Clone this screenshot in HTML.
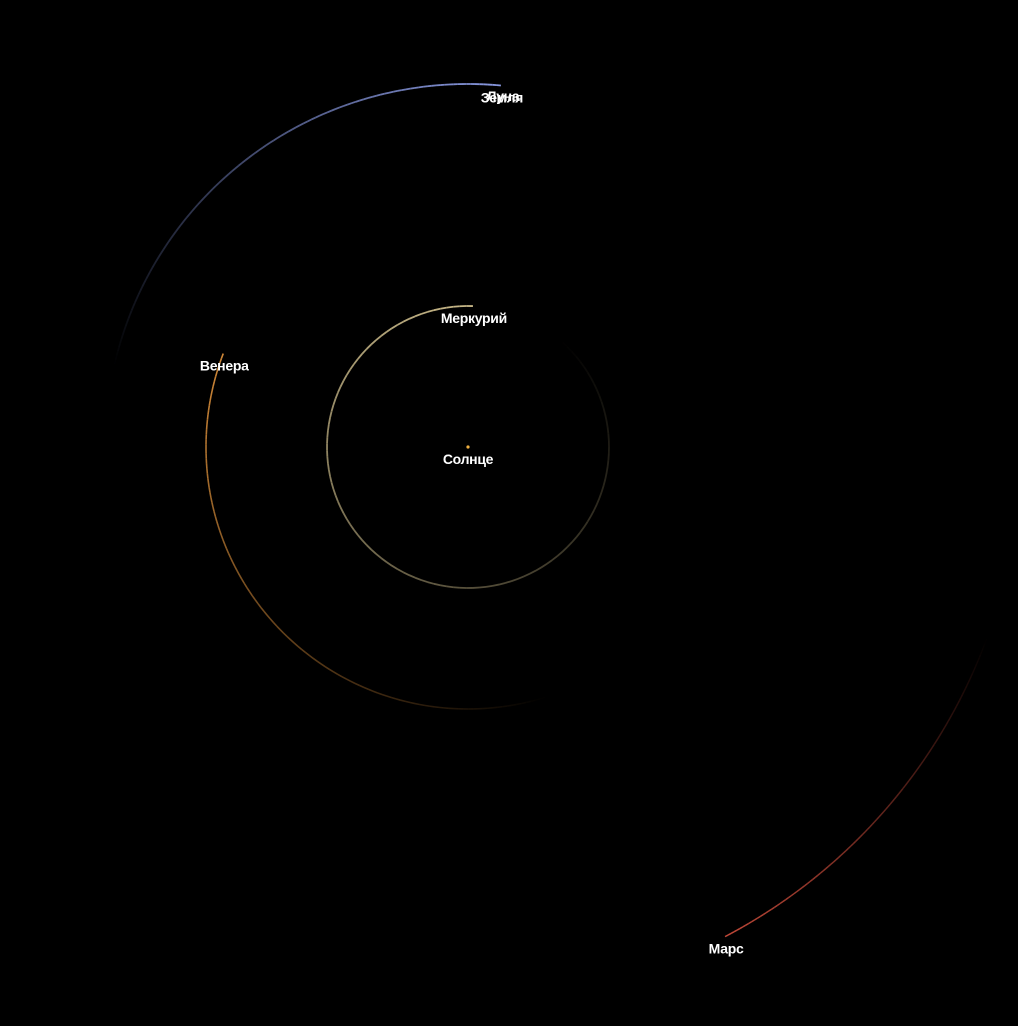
<!DOCTYPE html>
<html><head><meta charset="utf-8"><style>
html,body{margin:0;padding:0;background:#000;}
svg{display:block;}
text{font-family:"Liberation Sans",sans-serif;font-weight:bold;font-size:14px;fill:#fff;text-anchor:middle;letter-spacing:-0.3px;}
</style></head><body>
<svg id="chart" width="1018" height="1026" viewBox="0 0 1018 1026">
<rect width="1018" height="1026" fill="#000"/>
<g id="trails"></g>
<circle cx="468" cy="447" r="1.6" fill="#f0b040"/>
<g id="labels"></g>
</svg>
<script>
const planets = ["Меркурий","Венера","Земля","Марс"];
const radii = [141, 262, 363, 553];
const headAngles = [-88, 200.9, 275.2, 62.3];
const trailLengths = [320, 128, 82, 42];
const colors = ["#c8b888","#d08838","#8898e0","#c04838"];
const widths = [1.8, 1.6, 1.8, 1.5];
const cx = 468, cy = 447;
const NS = "http://www.w3.org/2000/svg";
const trails = document.getElementById('trails');
const labels = document.getElementById('labels');
function px(r, a){ return cx + r*Math.cos(a*Math.PI/180); }
function py(r, a){ return cy + r*Math.sin(a*Math.PI/180); }
planets.forEach((name, i) => {
  const g = document.createElementNS(NS,'g');
  
  
  const n = 120;
  for (let k = 0; k < n; k++) {
    const a0 = headAngles[i] - trailLengths[i]*k/n;
    const a1 = headAngles[i] - trailLengths[i]*(k+1)/n;
    const p = document.createElementNS(NS,'line');
    p.setAttribute('x1', px(radii[i], a0)); p.setAttribute('y1', py(radii[i], a0));
    p.setAttribute('x2', px(radii[i], a1)); p.setAttribute('y2', py(radii[i], a1));
    p.setAttribute('stroke', colors[i]);
    p.setAttribute('stroke-width', widths[i]);
    p.setAttribute('stroke-opacity', 1 - k/n);
    
    
    g.appendChild(p);
  }
  trails.appendChild(g);
  const t = document.createElementNS(NS,'text');
  t.setAttribute('x', px(radii[i], headAngles[i]) + 1);
  t.setAttribute('y', py(radii[i], headAngles[i]) + 17);
  t.textContent = name;
  
  
  labels.appendChild(t);
});
const moon = document.createElementNS(NS,'text');
moon.setAttribute('x', 503); moon.setAttribute('y', 101);
moon.textContent = "Луна";


labels.appendChild(moon);
const sun = document.createElementNS(NS,'text');
sun.setAttribute('x', 468); sun.setAttribute('y', 464);
sun.textContent = "Солнце";


labels.appendChild(sun);
</script>
</body></html>
